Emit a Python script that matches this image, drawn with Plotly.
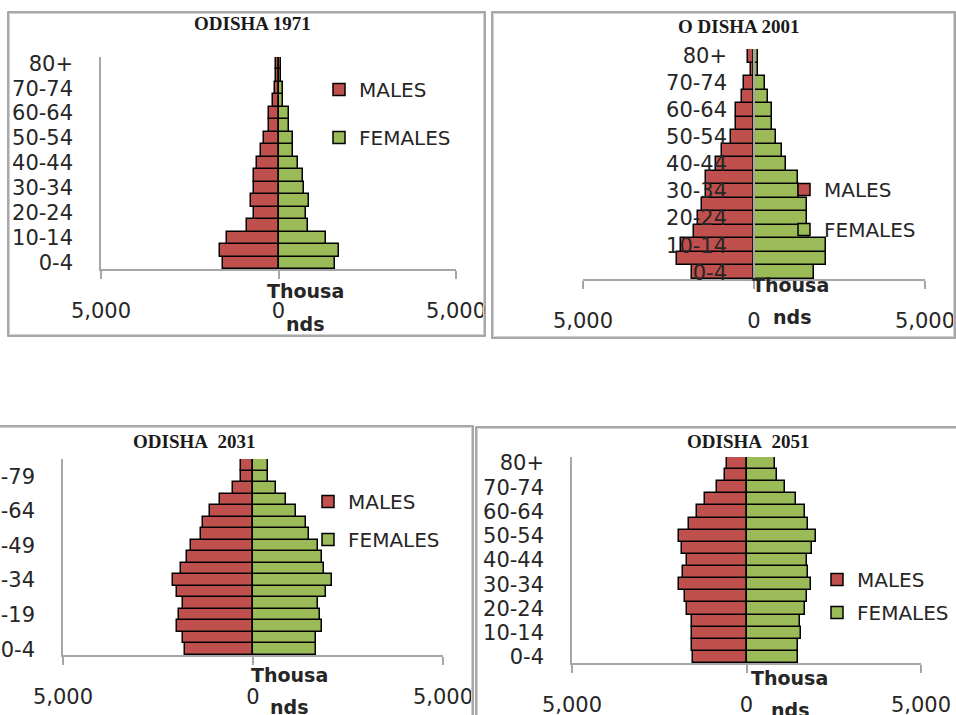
import plotly.graph_objects as go

W, H = 956, 715

# ---------------- data (thousands) ----------------
age_groups = ["0-4", "5-9", "10-14", "15-19", "20-24", "25-29", "30-34", "35-39",
              "40-44", "45-49", "50-54", "55-59", "60-64", "65-69", "70-74", "75-79", "80+"]

males_1971 = [1570, 1660, 1445, 890, 704, 770, 704, 704, 610, 488, 422, 254, 254, 160, 94, 65, 65]
females_1971 = [1580, 1700, 1340, 826, 780, 845, 732, 685, 545, 404, 404, 282, 282, 122, 122, 65, 65]

males_2001 = [1800, 2240, 2145, 1755, 1630, 1510, 1395, 1395, 1100, 925, 680, 515, 515, 340, 290, 100, 165]
females_2001 = [1755, 2115, 2115, 1600, 1560, 1560, 1320, 1285, 925, 830, 635, 535, 535, 420, 320, 125, 125]

males_2031 = [1780, 1840, 2000, 1950, 1840, 2000, 2105, 1885, 1735, 1620, 1360, 1315, 1120, 860, 525, 307, 307]
females_2031 = [1650, 1650, 1825, 1770, 1710, 1910, 2090, 1860, 1825, 1710, 1475, 1385, 1140, 877, 600, 395, 395]

males_2051 = [1530, 1575, 1575, 1575, 1700, 1770, 1940, 1815, 1700, 1860, 1940, 1640, 1415, 1175, 840, 620, 555]
females_2051 = [1480, 1480, 1550, 1530, 1670, 1720, 1835, 1770, 1720, 1890, 2005, 1770, 1670, 1430, 1100, 860, 810]

y_labels_every2 = ["0-4", "10-14", "20-24", "30-34", "40-44", "50-54", "60-64", "70-74", "80+"]
y_labels_every3 = ["0-4", "15-19", "30-34", "45-49", "60-64", "75-79"]
x_tick_vals = [-5000, 0, 5000]
x_tick_text = ["5,000", "0", "5,000"]

titles = ["ODISHA 1971", "O DISHA 2001", "ODISHA\u00a0\u00a02031", "ODISHA\u00a0\u00a02051"]
series_names = ["MALES", "FEMALES"]

# ---------------- layout config (pixels) ----------------
panels = [
    dict(title=titles[0], m=males_1971, f=females_1971, ylab=y_labels_every2,
         plot=(101, 456, 57, 269), border=(8, 12, 485, 336), title_xy=(252, 24),
         thousa=(305, 291), nds=(305, 324), legend=(319, 70), gap=19, yfree=False),
    dict(title=titles[1], m=males_2001, f=females_2001, ylab=y_labels_every2,
         plot=(583, 925, 49, 279), border=(492, 12, 955, 338), title_xy=(738, 26),
         thousa=(790, 285), nds=(792, 317), legend=(784, 170), gap=11, yfree=True),
    dict(title=titles[2], m=males_2031, f=females_2031, ylab=y_labels_every3,
         plot=(63, 443, 459, 655), border=(-3, 426, 473, 720), title_xy=(194, 441),
         thousa=(289, 675), nds=(289, 707), legend=(308, 482), gap=9, yfree=False),
    dict(title=titles[3], m=males_2051, f=females_2051, ylab=y_labels_every2,
         plot=(572, 921, 457, 663), border=(476, 427, 960, 720), title_xy=(748, 441),
         thousa=(789, 678), nds=(790, 710), legend=(817, 560), gap=4, yfree=False),
]

RED = "#C0504D"
GREEN = "#9BBB59"
FONT = "DejaVu Sans"
TXT = "#262626"
AXC = "#a6a6a6"


def fx(p):
    return p / W


def fy(p):
    return 1 - p / H


fig = go.Figure()
layout = dict(
    width=W, height=H, margin=dict(l=0, r=0, t=0, b=0),
    paper_bgcolor="white", plot_bgcolor="rgba(0,0,0,0)",
    barmode="relative", bargap=0, template="none",
    font=dict(family=FONT, size=20, color=TXT),
    shapes=[], annotations=[],
)

for i, P in enumerate(panels, start=1):
    sfx = "" if i == 1 else str(i)
    xa, ya, leg = "x" + sfx, "y" + sfx, "legend" + sfx
    fig.add_trace(go.Bar(
        y=age_groups, x=[-v for v in P["m"]], orientation="h", name=series_names[0],
        marker=dict(color=RED, line=dict(color="black", width=1.5)),
        xaxis=xa, yaxis=ya, legend=leg, legendgroup=f"m{i}"))
    fig.add_trace(go.Bar(
        y=age_groups, x=P["f"], orientation="h", name=series_names[1],
        marker=dict(color=GREEN, line=dict(color="black", width=1.5)),
        xaxis=xa, yaxis=ya, legend=leg, legendgroup=f"f{i}"))

    x0, x1, y0, y1 = P["plot"]
    layout["xaxis" + sfx] = dict(
        domain=[fx(x0), fx(x1)], anchor=ya, range=[-5000, 5000],
        tickvals=x_tick_vals, ticktext=x_tick_text, tickfont=dict(family=FONT, size=21, color=TXT),
        showgrid=False, zeroline=False, showline=True, linecolor=AXC, linewidth=1.5,
        ticks="outside", ticklen=8, tickcolor=AXC, tickwidth=1.5,
        ticklabelstandoff=14, automargin=False, fixedrange=True)
    yax = dict(
        domain=[fy(y1), fy(y0)], type="category", categoryorder="array",
        categoryarray=age_groups, range=[-0.5, len(age_groups) - 0.5],
        tickvals=P["ylab"], ticktext=P["ylab"], tickfont=dict(family=FONT, size=21, color=TXT),
        showgrid=False, zeroline=False, showline=True, linecolor=AXC, linewidth=1.5,
        ticks="", ticklabelstandoff=22, automargin=False, fixedrange=True)
    if P["yfree"]:
        yax.update(anchor="free", position=fx(x0 + (x1 - x0) / 2))
    else:
        yax.update(anchor=xa)
    layout["yaxis" + sfx] = yax

    lx, ly = P["legend"]
    layout["legend" + sfx] = dict(
        x=fx(lx), y=fy(ly), xanchor="left", yanchor="top",
        bgcolor="rgba(0,0,0,0)", borderwidth=0, tracegroupgap=P["gap"],
        font=dict(family=FONT, size=20, color=TXT), itemwidth=30, traceorder="grouped")

    bx0, by0, bx1, by1 = P["border"]
    layout["shapes"].append(dict(type="rect", xref="paper", yref="paper",
                                 x0=fx(bx0), x1=fx(bx1), y0=fy(by1), y1=fy(by0),
                                 line=dict(color="#8c8c8c", width=1.5), layer="above"))
    layout["shapes"].append(dict(type="rect", xref="paper", yref="paper",
                                 x0=fx(bx0 + 1.5), x1=fx(bx1 - 1.5), y0=fy(by1 - 1.5), y1=fy(by0 + 1.5),
                                 line=dict(color="#d0d0d0", width=1), layer="above"))

    tx, ty = P["title_xy"]
    layout["annotations"].append(dict(
        text="<b>" + P["title"] + "</b>", x=fx(tx), y=fy(ty), xref="paper", yref="paper",
        xanchor="center", yanchor="middle", showarrow=False,
        font=dict(family="Liberation Serif", size=19, color="#1a1a1a")))
    for txt, (ax_, ay_) in (("Thousa", P["thousa"]), ("nds", P["nds"])):
        layout["annotations"].append(dict(
            text="<b>" + txt + "</b>", x=fx(ax_), y=fy(ay_), xref="paper", yref="paper",
            xanchor="center", yanchor="middle", showarrow=False,
            font=dict(family=FONT, size=19, color=TXT)))

fig.update_layout(**layout)
fig.write_html("out.html")
